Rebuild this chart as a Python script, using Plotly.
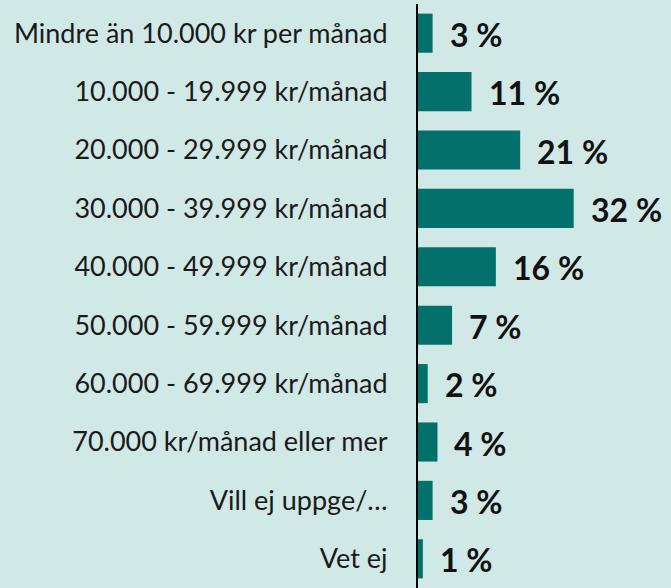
import plotly.graph_objects as go

categories = [
    "Mindre än 10.000 kr per månad",
    "10.000 - 19.999 kr/månad",
    "20.000 - 29.999 kr/månad",
    "30.000 - 39.999 kr/månad",
    "40.000 - 49.999 kr/månad",
    "50.000 - 59.999 kr/månad",
    "60.000 - 69.999 kr/månad",
    "70.000 kr/månad eller mer",
    "Vill ej uppge/…",
    "Vet ej",
]
values = [3, 11, 21, 32, 16, 7, 2, 4, 3, 1]
value_labels = [f"{v} %" for v in values]

BG = "#d0e9e6"
BAR = "#04706c"

fig = go.Figure()
fig.add_trace(go.Bar(
    x=values,
    y=categories,
    orientation="h",
    marker=dict(color=BAR, line=dict(width=0)),
    hoverinfo="skip",
))

for c, v, t in zip(categories, values, value_labels):
    fig.add_annotation(
        x=v, y=c, text=f"<b>{t}</b>", showarrow=False,
        xanchor="left", yanchor="middle", xshift=15, yshift=-1,
        font=dict(family="Lato", size=32, color="#111111"),
    )

fig.update_layout(
    width=671, height=588,
    margin=dict(l=418, r=0, t=4, b=0, autoexpand=False),
    paper_bgcolor=BG, plot_bgcolor=BG,
    bargap=0.33,
    showlegend=False,
    xaxis=dict(range=[0, 52], visible=False, fixedrange=True),
    yaxis=dict(
        autorange="reversed", automargin=False,
        showline=True, linecolor="#000000", linewidth=2,
        showgrid=False, ticks="", ticklabelstandoff=23,
        tickfont=dict(family="Lato", size=27, color="#1a1a1a"),
        fixedrange=True,
    ),
)

fig.write_html(
    "out.html",
    config={"displayModeBar": False},
    post_script="document.body.style.margin='0';document.body.style.padding='0';",
)
